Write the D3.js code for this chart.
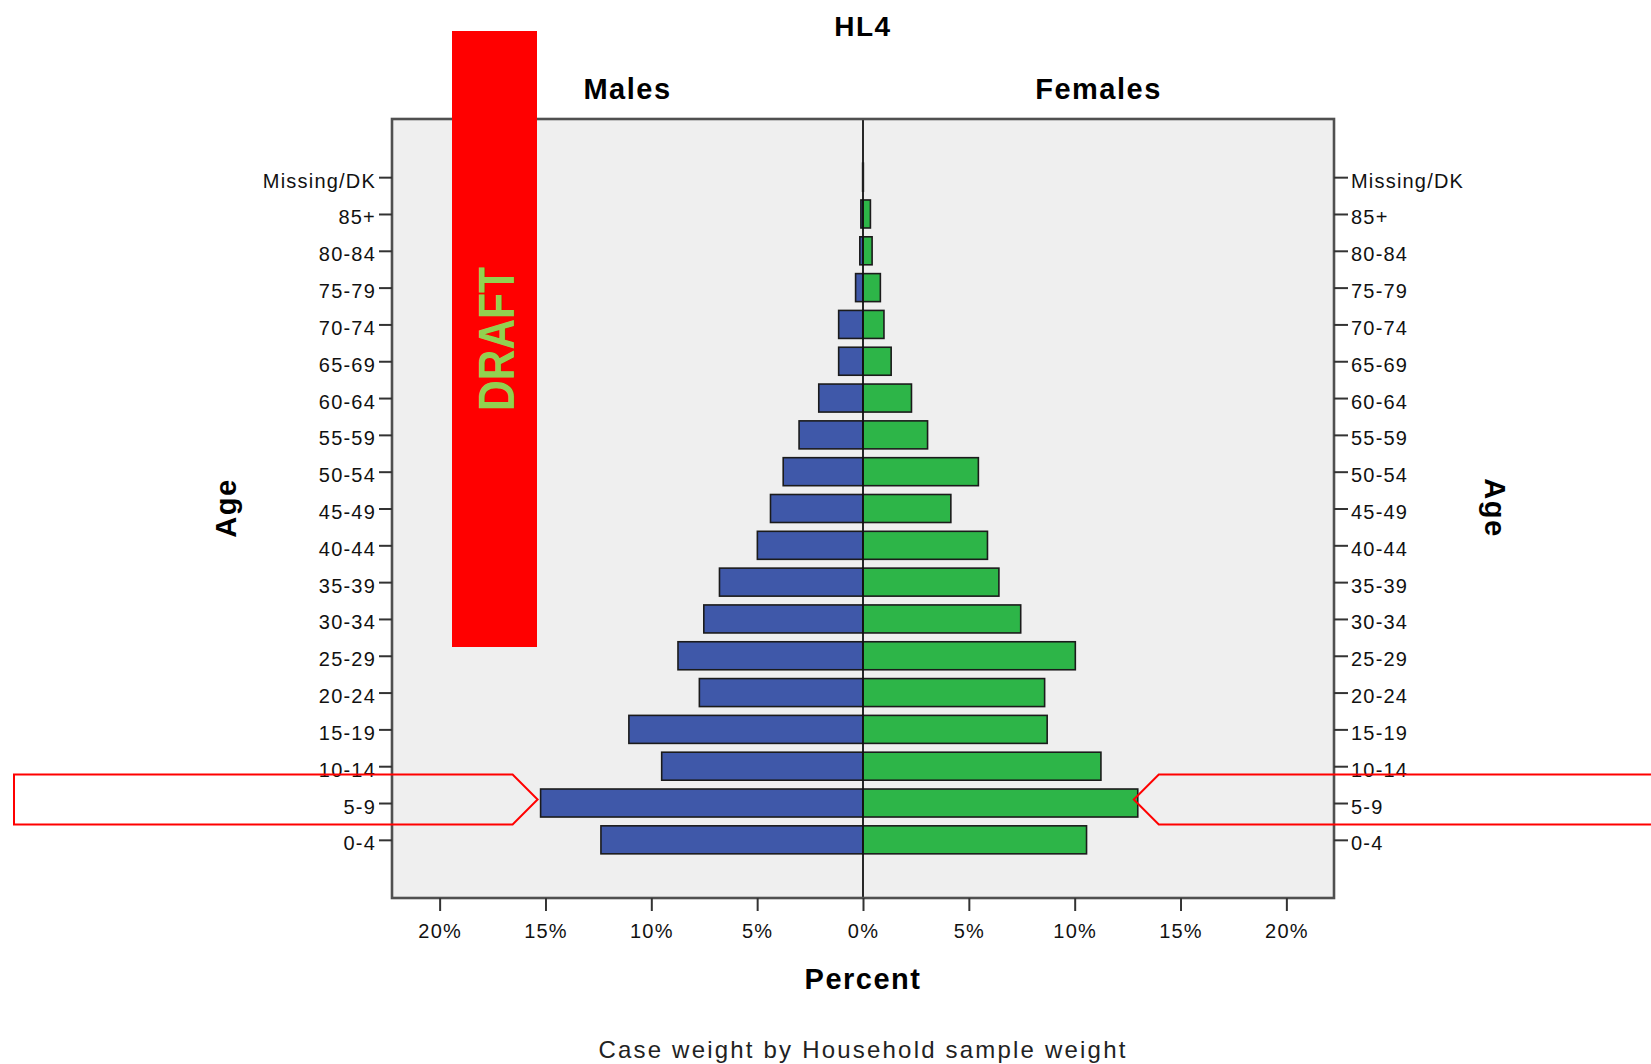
<!DOCTYPE html>
<html>
<head>
<meta charset="utf-8">
<script src="https://cdn.jsdelivr.net/npm/d3@7.9.0/dist/d3.min.js"></script>
<style>
  html, body { margin: 0; padding: 0; background: #fff; }
  svg { display: block; font-family: "Liberation Sans", Arial, sans-serif; }
</style>
</head>
<body>
<svg id="chart" width="1651" height="1064"></svg>
<script>
// age groups, top to bottom
const ageGroups = ['Missing/DK', '85+', '80-84', '75-79', '70-74', '65-69', '60-64', '55-59',
  '50-54', '45-49', '40-44', '35-39', '30-34', '25-29', '20-24', '15-19', '10-14', '5-9', '0-4'];

// percent of household members
const males = [0.03, 0.1, 0.15, 0.35, 1.15, 1.15, 2.09, 3.02,
  3.77, 4.37, 4.99, 6.78, 7.52, 8.74, 7.73, 11.06, 9.51, 15.23, 12.38];
const females = [0.03, 0.35, 0.43, 0.82, 0.99, 1.33, 2.29, 3.05,
  5.45, 4.15, 5.88, 6.42, 7.45, 10.03, 8.58, 8.70, 11.24, 12.98, 10.56];

const xTicks = [-20, -15, -10, -5, 0, 5, 10, 15, 20];
const highlighted = '5-9';

const svg = d3.select('#chart');
const box = { left: 392, right: 1334, top: 119, bottom: 898 };

const x = d3.scaleLinear().domain([-22.25, 22.25]).range([box.left, box.right]);
const y = d3.scalePoint().domain(ageGroups).range([box.top, box.bottom]).padding(1.58);
const barH = 28;

const rows = ageGroups.map((g, i) => ({ group: g, m: males[i], f: females[i] }));

// plot background
svg.append('rect')
  .attr('x', box.left).attr('y', box.top)
  .attr('width', box.right - box.left).attr('height', box.bottom - box.top)
  .attr('fill', '#efefef');

// bars
const barStroke = d => (Math.max(d.m, d.f) < 0.1 ? '#9a9a9a' : '#1b1b1b');
svg.append('g').selectAll('rect').data(rows).join('rect')
  .attr('x', d => x(-d.m)).attr('y', d => y(d.group) - barH / 2)
  .attr('width', d => x(0) - x(-d.m)).attr('height', barH)
  .attr('fill', '#3f58a9').attr('stroke', barStroke).attr('stroke-width', 1.6);

svg.append('g').selectAll('rect').data(rows).join('rect')
  .attr('x', x(0)).attr('y', d => y(d.group) - barH / 2)
  .attr('width', d => x(d.f) - x(0)).attr('height', barH)
  .attr('fill', '#2db548').attr('stroke', barStroke).attr('stroke-width', 1.6);

// zero line
svg.append('line')
  .attr('x1', x(0)).attr('x2', x(0)).attr('y1', box.top).attr('y2', box.bottom)
  .attr('stroke', '#111').attr('stroke-width', 1.8);

// frame
svg.append('rect')
  .attr('x', box.left).attr('y', box.top)
  .attr('width', box.right - box.left).attr('height', box.bottom - box.top)
  .attr('fill', 'none').attr('stroke', '#505050').attr('stroke-width', 2.6);

// axes
const tickStyle = g => {
  g.select('.domain').remove();
  g.selectAll('.tick line').attr('stroke', '#333').attr('stroke-width', 2);
  g.selectAll('.tick text').attr('fill', '#111')
    .style('font-size', '20px').style('letter-spacing', '1.2px');
};

svg.append('g')
  .attr('transform', `translate(0,${box.bottom})`)
  .call(d3.axisBottom(x).tickValues(xTicks).tickSize(13).tickPadding(9)
    .tickFormat(d => Math.abs(d) + '%'))
  .call(tickStyle)
  .call(g => g.selectAll('.tick text').attr('dy', '0.9em'));

svg.append('g')
  .attr('transform', `translate(${box.left},0)`)
  .call(d3.axisLeft(y).tickSize(13).tickPadding(3))
  .call(tickStyle)
  .call(g => g.selectAll('.tick text').attr('dy', '0.5em'));

svg.append('g')
  .attr('transform', `translate(${box.right},0)`)
  .call(d3.axisRight(y).tickSize(14).tickPadding(3))
  .call(tickStyle)
  .call(g => g.selectAll('.tick text').attr('dy', '0.5em'));

// titles
const bold = (t, px, py, size, rot) => svg.append('text')
  .attr('transform', `translate(${px},${py}) rotate(${rot || 0})`)
  .attr('text-anchor', 'middle').attr('dominant-baseline', 'central')
  .style('font-weight', 'bold').style('font-size', size + 'px')
  .style('letter-spacing', '1.5px').attr('fill', '#000').text(t);

bold('HL4', x(0), 26, 28);
bold('Males', (box.left + x(0)) / 2, 89, 29);
bold('Females', (x(0) + box.right) / 2, 89, 29);
bold('Age', 226, 508, 29, -90);
bold('Age', 1495, 508, 29, 90);
bold('Percent', x(0), 979, 29);

svg.append('text')
  .attr('x', x(0)).attr('y', 1049)
  .attr('text-anchor', 'middle').attr('dominant-baseline', 'central')
  .style('font-size', '24px').style('letter-spacing', '2.2px')
  .attr('fill', '#222').text('Case weight by Household sample weight');

// DRAFT stamp
svg.append('rect')
  .attr('x', 452).attr('y', 31).attr('width', 85).attr('height', 616)
  .attr('fill', '#ff0000');
svg.append('text')
  .attr('transform', 'translate(497,339) rotate(-90)')
  .attr('text-anchor', 'middle').attr('dominant-baseline', 'central')
  .attr('textLength', 144).attr('lengthAdjust', 'spacingAndGlyphs')
  .style('font-weight', 'bold').style('font-size', '50px')
  .attr('fill', '#92d050').text('DRAFT');

// callouts on the 5-9 row
const hi = rows.find(r => r.group === highlighted);
const cy = y(highlighted) - 3.5;
const half = 25;
const lt = x(-hi.m) - 3;
const rt = x(hi.f) - 4;
svg.append('path')
  .attr('d', `M14,${cy - half} L${lt - 25},${cy - half} L${lt},${cy} L${lt - 25},${cy + half} L14,${cy + half} Z`)
  .attr('fill', 'none').attr('stroke', '#ff0000').attr('stroke-width', 2);
svg.append('path')
  .attr('d', `M1660,${cy - half} L${rt + 25},${cy - half} L${rt},${cy} L${rt + 25},${cy + half} L1660,${cy + half}`)
  .attr('fill', 'none').attr('stroke', '#ff0000').attr('stroke-width', 2);
</script>
</body>
</html>
